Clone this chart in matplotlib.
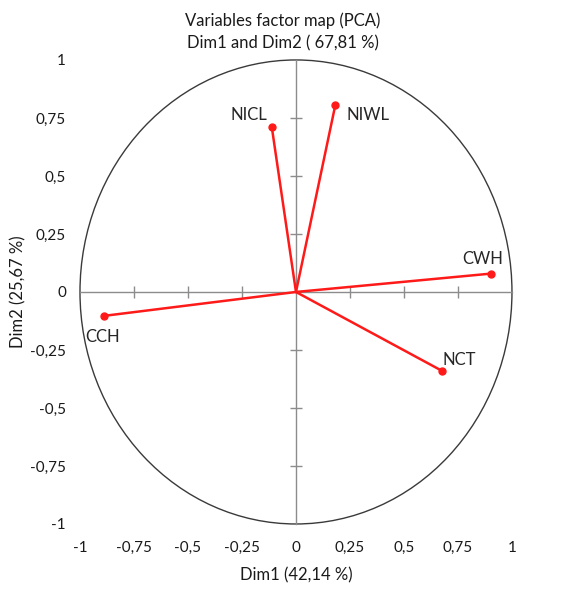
import numpy as np
import matplotlib
matplotlib.use("Agg")
import matplotlib.pyplot as plt
from matplotlib.patches import Ellipse

plt.rcParams['font.family'] = ['Lato', 'DejaVu Sans']

variables = ["NICL", "NIWL", "CWH", "CCH", "NCT"]
dim1 = [-0.112, 0.182, 0.901, -0.889, 0.674]
dim2 = [0.711, 0.805, 0.079, -0.103, -0.339]
ticks = [-1, -0.75, -0.5, -0.25, 0, 0.25, 0.5, 0.75, 1]
tick_labels = ["-1", "-0,75", "-0,5", "-0,25", "0", "0,25", "0,5", "0,75", "1"]
title = "Variables factor map (PCA)\nDim1 and Dim2 ( 67,81 %)"
xlabel = "Dim1 (42,14 %)"
ylabel = "Dim2 (25,67 %)"

label_offsets = {"NICL": (-0.107, 0.052), "NIWL": (0.151, -0.042), "CWH": (-0.037, 0.063),
                 "CCH": (-0.006, -0.09), "NCT": (0.081, 0.046)}

fig = plt.figure(figsize=(5.8, 5.89), dpi=100)
ax = fig.add_axes([0.1379, 0.1104, 0.7448, 0.7878])
ax.set_xlim(-1, 1)
ax.set_ylim(-1, 1)
for s in ax.spines.values():
    s.set_visible(False)

ax.add_patch(Ellipse((0, 0), 2, 2, fill=False, edgecolor="#3a3a3a", lw=1.0, clip_on=False))
ax.plot([-1, 1], [0, 0], color="#8c8c8c", lw=1.0, clip_on=False)
ax.plot([0, 0], [-1, 1], color="#8c8c8c", lw=1.0, clip_on=False)
inner = [t for t in ticks if t not in (-1, 0, 1)]
ax.plot(inner, [0] * len(inner), ls="none", marker="|", ms=9, color="#8c8c8c", mew=1.0)
ax.plot([0] * len(inner), inner, ls="none", marker="_", ms=9, color="#8c8c8c", mew=1.0)

for name, x, y in zip(variables, dim1, dim2):
    ax.plot([0, x], [0, y], color="#ff1a1a", lw=1.8, solid_capstyle="round")
    ax.plot([x], [y], marker="o", ms=5, color="#ff1a1a")
    dx, dy = label_offsets[name]
    ax.text(x + dx, y + dy, name, ha="center", va="center", fontsize=12, color="#262626")

ax.set_xticks(ticks)
ax.set_xticklabels(tick_labels)
ax.set_yticks(ticks)
ax.set_yticklabels(tick_labels)
ax.tick_params(length=0, labelsize=11, colors="#1a1a1a")
ax.tick_params(axis="y", pad=10)
ax.tick_params(axis="x", pad=12)
ax.set_xlabel(xlabel, fontsize=12, labelpad=9, color="#1a1a1a")
fig.text(18 / 580, 1 - 292 / 589, ylabel, rotation=90, ha="center", va="center",
         fontsize=12, color="#1a1a1a")
fig.text(0.487, 0.946, title, ha="center", va="center", fontsize=12, color="#1a1a1a", linespacing=1.45)

fig.savefig("out.png", dpi=100, facecolor="white")
